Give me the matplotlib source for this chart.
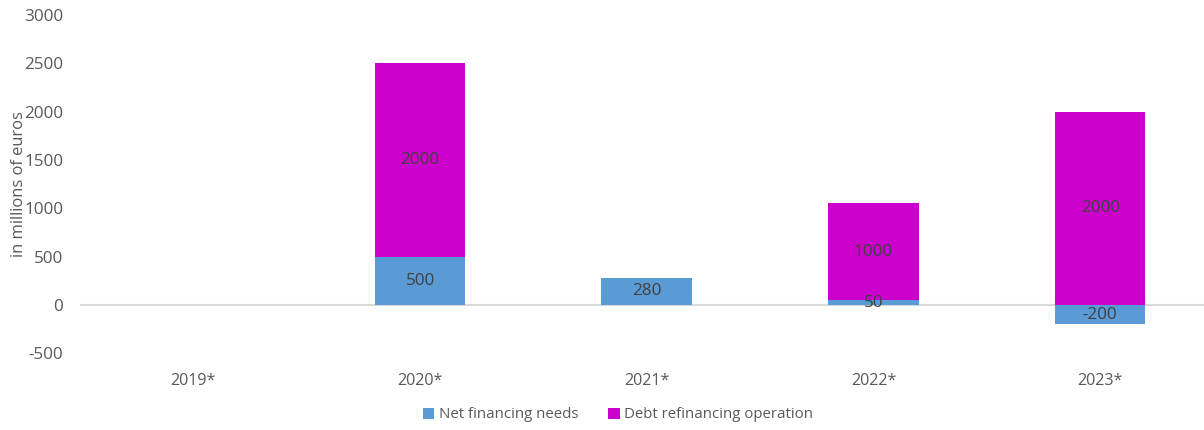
import matplotlib.pyplot as plt
import numpy as np

years = ["2019*", "2020*", "2021*", "2022*", "2023*"]
net_needs = [0, 500, 280, 50, -200]
debt_refi = [0, 2000, 0, 1000, 2000]

plt.rcParams['font.family'] = ['Open Sans', 'DejaVu Sans']
plt.rcParams['axes.unicode_minus'] = False

blue = '#5B9BD5'
magenta = '#CC00CC'
txt = '#595959'
fs = 12.3

fig = plt.figure(figsize=(12.04, 4.30), dpi=100)
ax = fig.add_axes([80 / 1204, 1 - 353.3 / 430, (1213.5 - 80) / 1204, (353.3 - 15) / 430])

x = np.arange(len(years))
net = np.array(net_needs)
debt = np.array(debt_refi)
bottom = np.clip(net, 0, None)

b1 = ax.bar(x, net, width=0.4, color=blue, linewidth=0,
            label='Net financing needs', zorder=2)
b2 = ax.bar(x, debt, width=0.4, bottom=bottom, color=magenta, linewidth=0,
            label='Debt refinancing operation', zorder=2)

# value labels (skip empty bars)
for i in range(len(years)):
    if net[i] != 0:
        ax.text(x[i], net[i] / 2, str(net[i]), ha='center', va='center',
                fontsize=fs, color='#404040', zorder=3)
    if debt[i] != 0:
        ax.text(x[i], bottom[i] + debt[i] / 2, str(debt[i]), ha='center', va='center',
                fontsize=fs, color='#404040', zorder=3)

ax.axhline(0, color='#D9D9D9', linewidth=1.5, zorder=1)
ax.set_xlim(-0.5, len(years) - 0.5)
ax.set_ylim(-500, 3000)
ax.set_yticks(np.arange(-500, 3001, 500))
ax.set_xticks(x)
ax.set_xticklabels(years)
for s in ax.spines.values():
    s.set_visible(False)
ax.tick_params(axis='both', length=0, colors=txt)
ax.tick_params(axis='x', pad=14, labelsize=11.6)
ax.tick_params(axis='y', pad=12, labelsize=fs)
ax.set_ylabel("in millions of euros", fontsize=11.9, color=txt)
ax.yaxis.set_label_coords(-0.047, 0.5)

fig.legend(handles=[b1, b2], loc='center', bbox_to_anchor=(618 / 1204, 1 - 415 / 430),
           ncol=2, frameon=False, fontsize=10.8, labelcolor=txt, handlelength=0.75,
           handleheight=0.75, handletextpad=0.3, columnspacing=2.0)

plt.savefig("out.png", dpi=100)
plt.close()
